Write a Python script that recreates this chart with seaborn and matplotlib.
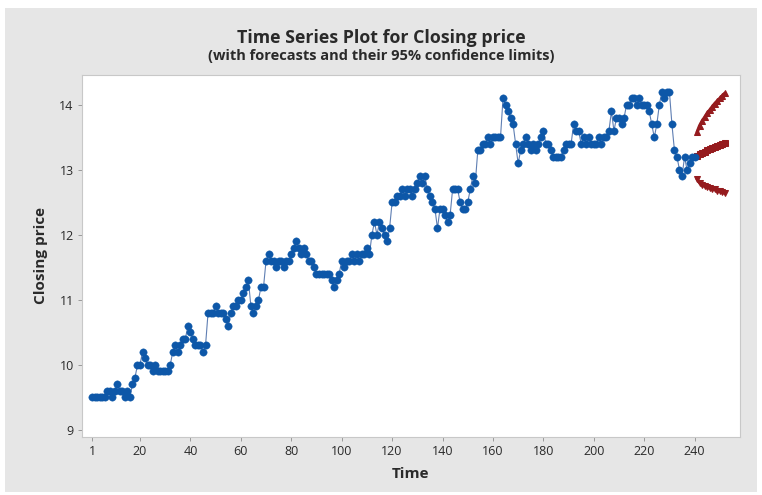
import numpy as np
import pandas as pd
import matplotlib
matplotlib.use("Agg")
import matplotlib.pyplot as plt
import seaborn as sns
from matplotlib.patches import Rectangle

# closing price, periods 1..240
closing_price = [
    9.5, 9.5, 9.5, 9.5, 9.5, 9.5, 9.6, 9.6, 9.5, 9.6,
    9.7, 9.6, 9.6, 9.5, 9.6, 9.5, 9.7, 9.8, 10.0, 10.0,
    10.2, 10.1, 10.0, 10.0, 9.9, 10.0, 9.9, 9.9, 9.9, 9.9,
    9.9, 10.0, 10.2, 10.3, 10.2, 10.3, 10.4, 10.4, 10.6, 10.5,
    10.4, 10.3, 10.3, 10.3, 10.2, 10.3, 10.8, 10.8, 10.8, 10.9,
    10.8, 10.8, 10.8, 10.7, 10.6, 10.8, 10.9, 10.9, 11.0, 11.0,
    11.1, 11.2, 11.3, 10.9, 10.8, 10.9, 11.0, 11.2, 11.2, 11.6,
    11.7, 11.6, 11.6, 11.5, 11.6, 11.6, 11.5, 11.6, 11.6, 11.7,
    11.8, 11.9, 11.8, 11.7, 11.8, 11.7, 11.6, 11.6, 11.5, 11.4,
    11.4, 11.4, 11.4, 11.4, 11.4, 11.3, 11.2, 11.3, 11.4, 11.6,
    11.5, 11.6, 11.6, 11.7, 11.6, 11.7, 11.6, 11.7, 11.7, 11.8,
    11.7, 12.0, 12.2, 12.0, 12.2, 12.1, 12.0, 11.9, 12.1, 12.5,
    12.5, 12.6, 12.6, 12.7, 12.6, 12.7, 12.7, 12.6, 12.7, 12.8,
    12.9, 12.8, 12.9, 12.7, 12.6, 12.5, 12.4, 12.1, 12.4, 12.4,
    12.3, 12.2, 12.3, 12.7, 12.7, 12.7, 12.5, 12.4, 12.4, 12.5,
    12.7, 12.9, 12.8, 13.3, 13.3, 13.4, 13.4, 13.5, 13.4, 13.5,
    13.5, 13.5, 13.5, 14.1, 14.0, 13.9, 13.8, 13.7, 13.4, 13.1,
    13.3, 13.4, 13.5, 13.4, 13.3, 13.4, 13.3, 13.4, 13.5, 13.6,
    13.4, 13.4, 13.3, 13.2, 13.2, 13.2, 13.2, 13.3, 13.4, 13.4,
    13.4, 13.7, 13.6, 13.6, 13.4, 13.5, 13.4, 13.5, 13.4, 13.4,
    13.4, 13.5, 13.4, 13.5, 13.5, 13.6, 13.9, 13.6, 13.8, 13.8,
    13.7, 13.8, 14.0, 14.0, 14.1, 14.1, 14.0, 14.1, 14.0, 14.0,
    14.0, 13.9, 13.7, 13.5, 13.7, 14.0, 14.2, 14.1, 14.2, 14.2,
    13.7, 13.3, 13.2, 13.0, 12.9, 13.2, 13.0, 13.1, 13.2, 13.2,
]

# forecasts for periods 241..252 and their 95% limits
forecast = [13.22, 13.24, 13.26, 13.28, 13.30, 13.32, 13.34, 13.35, 13.37, 13.39, 13.40, 13.42]
upper = [13.58, 13.68, 13.75, 13.81, 13.87, 13.92, 13.97, 14.02, 14.06, 14.10, 14.14, 14.18]
lower = [12.86, 12.80, 12.77, 12.75, 12.73, 12.72, 12.71, 12.70, 12.68, 12.67, 12.66, 12.64]

x_ticks = [1, 20, 40, 60, 80, 100, 120, 140, 160, 180, 200, 220, 240]
y_ticks = [9, 10, 11, 12, 13, 14]

df = pd.DataFrame({"Time": np.arange(1, len(closing_price) + 1), "Closing price": closing_price})
fc = pd.DataFrame({"Time": np.arange(len(closing_price) + 1, len(closing_price) + 1 + len(forecast)),
                   "Forecast": forecast, "Upper": upper, "Lower": lower})

sns.set_style("white")
plt.rcParams["font.family"] = ["Open Sans", "DejaVu Sans"]

fig = plt.figure(figsize=(7.62, 4.95), dpi=100)
fig.patch.set_facecolor("white")
# grey Minitab-like graph region
fig.patches.append(Rectangle((5 / 762, 3 / 495), 752 / 762, 484 / 495, transform=fig.transFigure,
                             facecolor="#e6e6e6", edgecolor="none", zorder=-10))
ax = fig.add_axes([82 / 762, 1 - 437 / 495, 658 / 762, 362 / 495])

blue = "#0d57a8"
red = "#951b1e"
sns.lineplot(data=df, x="Time", y="Closing price", ax=ax, color="#5f7fb3", linewidth=0.8)
sns.scatterplot(data=df, x="Time", y="Closing price", ax=ax, color=blue, s=28, edgecolor=blue, linewidth=0.3, zorder=3)
for col, mk in [("Forecast", "s"), ("Upper", "^"), ("Lower", "v")]:
    sns.lineplot(data=fc, x="Time", y=col, ax=ax, color=red, linewidth=2.4,
                 marker=mk, markersize=3.8, markeredgecolor=red)

ax.set_xlim(-3, 258)
ax.set_ylim(8.89, 14.46)
ax.set_xticks(x_ticks)
ax.set_yticks(y_ticks)
ax.tick_params(axis="both", which="both", direction="out", length=3, width=0.7, color="#9a9a9a",
               labelsize=9, labelcolor="#2a2a2a", bottom=True, left=True, pad=3)
for s in ax.spines.values():
    s.set_color("#c8c8c8")
    s.set_linewidth(0.8)
ax.set_xlabel("Time", fontsize=11, color="#2a2a2a", labelpad=6, fontweight="bold")
ax.set_ylabel("Closing price", fontsize=11, color="#2a2a2a", labelpad=8, fontweight="bold")

fig.text(0.5, 1 - 38 / 495, "Time Series Plot for Closing price", ha="center", va="center",
         fontsize=12.8, color="#2a2a2a", fontweight="bold")
fig.text(0.5, 1 - 56 / 495, "(with forecasts and their 95% confidence limits)", ha="center", va="center",
         fontsize=10.5, color="#2a2a2a", fontweight="bold")

fig.savefig("out.png", dpi=100, facecolor=fig.get_facecolor())
